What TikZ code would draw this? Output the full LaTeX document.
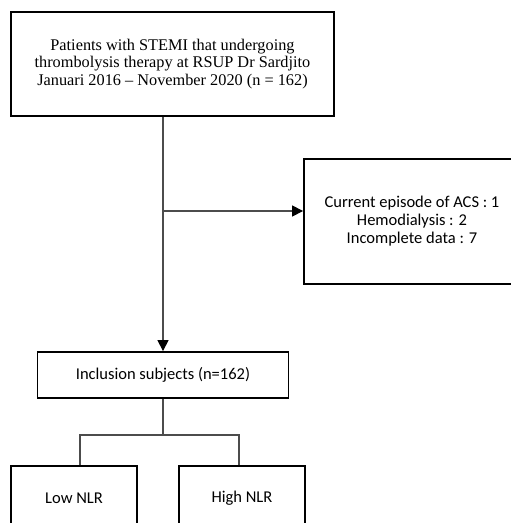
\documentclass[tikz,border=0pt]{standalone}
\usepackage{fontspec}
\setmainfont{Liberation Serif}
\newfontfamily\calfont{Carlito}
\usetikzlibrary{arrows.meta}
\begin{document}
\begin{tikzpicture}[x=1pt,y=-1pt,
  box/.style={draw, line width=1.8pt, inner sep=0pt, align=center},
  conn/.style={draw=black!70, line width=1.2pt},
  arr/.style={-{Triangle[length=11pt,width=11pt,fill=black,color=black]}},
  serif/.style={font=\fontsize{16.3}{17.6}\selectfont},
  sans/.style={font=\calfont\fontsize{16.5}{18}\selectfont}]
\useasboundingbox (0,0) rectangle (511,523);
\clip (0,0) rectangle (511,523);
\node[box, serif, minimum width=323pt, minimum height=104pt] (top) at (172.5,64)
  {Patients with STEMI that undergoing\\thrombolysis therapy at RSUP Dr Sardjito\\Januari 2016 -- November 2020 (n = 162)};
\node[box, sans, minimum width=216pt, minimum height=125pt] (excl) at (412,221.5)
  {Current episode of ACS : 1\\Hemodialysis : 2\\Incomplete data : 7};
\node[box, sans, minimum width=251pt, minimum height=46pt] (incl) at (163,375)
  {Inclusion subjects (n=162)};
\node[box, sans, minimum width=126pt, minimum height=64pt] (low) at (74,498) {Low NLR};
\node[box, sans, minimum width=126pt, minimum height=64pt] (high) at (242,498) {High NLR};
\draw[conn, arr] (top.south -| incl.north) -- (incl.north);
\coordinate (br) at (163,211);
\draw[conn, arr] (br) -- (br -| excl.west);
\draw[conn] (incl.south) -- ++(0,36) coordinate (sp);
\draw[conn] ([xshift=6pt]low.north) |- (sp) -| ([xshift=-3pt]high.north);
\end{tikzpicture}
\end{document}
